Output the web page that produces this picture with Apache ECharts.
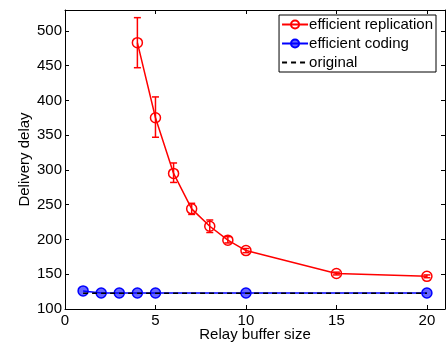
<!DOCTYPE html>
<html><head><meta charset="utf-8">
<script src="https://cdn.jsdelivr.net/npm/echarts@6/dist/echarts.min.js"></script>
<style>html,body{margin:0;padding:0;background:#fff}#c{width:446px;height:345px}</style>
</head><body><div id="c"></div>
<script>
var repX = [4, 5, 6, 7, 8, 9, 10, 15, 20];
var repY = [483, 375, 295, 244, 219, 199, 184, 151, 147];
var repLo = [447, 347, 282, 236, 210, 195, 181, 149, 145];
var repHi = [519, 405, 310, 252, 228, 204, 187, 153, 149];
var codX = [1, 2, 3, 4, 5, 10, 20];
var codY = [126, 123, 123, 123, 123, 123, 123];
var origX = [1, 20];
var origY = [122.5, 122.5];

var font = 'Liberation Sans, Arial, sans-serif';
function pairs(xs, ys){ return xs.map(function(x,i){return [x, ys[i]];}); }
var errData = repX.map(function(x,i){return [x, repLo[i], repHi[i]];});

var chart = echarts.init(document.getElementById('c'));
var axisCommon = {
  axisLine:{show:true, onZero:false, lineStyle:{color:'#000', width:1}},
  axisTick:{show:true, inside:true, length:4, lineStyle:{color:'#000'}},
  splitLine:{show:false}
};
chart.setOption({
  animation:false,
  textStyle:{fontFamily:font},
  grid:{left:65, right:1, top:10, bottom:36, containLabel:false, outerBoundsMode:'none'},
  xAxis:[
    Object.assign({type:'value', min:0, max:21, interval:5, position:'bottom',
      name:'Relay buffer size', nameLocation:'middle', nameGap:18, nameMoveOverlap:false,
      nameTextStyle:{fontSize:15, color:'#000', fontFamily:font},
      axisLabel:{fontSize:15, color:'#000', margin:4, showMaxLabel:false, fontFamily:font}}, axisCommon),
    Object.assign({type:'value', min:0, max:21, interval:5, position:'top',
      axisLabel:{show:false}}, axisCommon)
  ],
  yAxis:[
    Object.assign({type:'value', min:100, max:530, interval:50, position:'left',
      name:'Delivery delay', nameLocation:'middle', nameGap:33, nameMoveOverlap:false,
      nameTextStyle:{fontSize:15, color:'#000', fontFamily:font},
      axisLabel:{fontSize:15, color:'#000', margin:3, showMaxLabel:false, fontFamily:font}}, axisCommon),
    Object.assign({type:'value', min:100, max:530, interval:50, position:'right',
      axisLabel:{show:false}}, axisCommon)
  ],
  legend:{
    data:['efficient replication','efficient coding',{name:'original', itemStyle:{opacity:0}}],
    orient:'vertical', right:10, top:15, itemWidth:26, itemHeight:10, itemGap:4,
    padding:[2,3,2,2], borderColor:'#000', borderWidth:1, backgroundColor:'#fff',
    textStyle:{fontSize:15, color:'#000', fontFamily:font, padding:[0,0,0,-4]}
  },
  series:[
    {name:'original', type:'line', data:pairs(origX, origY), symbol:'none',
      lineStyle:{color:'#000', type:[5,4], width:1.5}, itemStyle:{color:'#000'}, z:4},
    {name:'efficient coding', type:'line', data:pairs(codX, codY), symbol:'circle', symbolSize:10,
      lineStyle:{color:'#00f', width:1.5}, itemStyle:{color:'rgba(0,0,255,0.6)', borderColor:'#00f', borderWidth:1.5}, z:3},
    {name:'efficient replication', type:'line', data:pairs(repX, repY), symbol:'circle', symbolSize:10,
      lineStyle:{color:'#f00', width:1.5}, itemStyle:{color:'rgba(255,255,255,0)', borderColor:'#f00', borderWidth:1.5}, z:3},
    {type:'custom', data:errData, z:2,
      renderItem:function(params, api){
        var x = api.value(0);
        var lo = api.coord([x, api.value(1)]);
        var hi = api.coord([x, api.value(2)]);
        var w = 3.5;
        var st = {stroke:'#f00', lineWidth:1.5};
        return {type:'group', children:[
          {type:'line', shape:{x1:lo[0], y1:lo[1], x2:hi[0], y2:hi[1]}, style:st},
          {type:'line', shape:{x1:lo[0]-w, y1:lo[1], x2:lo[0]+w, y2:lo[1]}, style:st},
          {type:'line', shape:{x1:hi[0]-w, y1:hi[1], x2:hi[0]+w, y2:hi[1]}, style:st}
        ]};
      }}
  ]
});
</script></body></html>
